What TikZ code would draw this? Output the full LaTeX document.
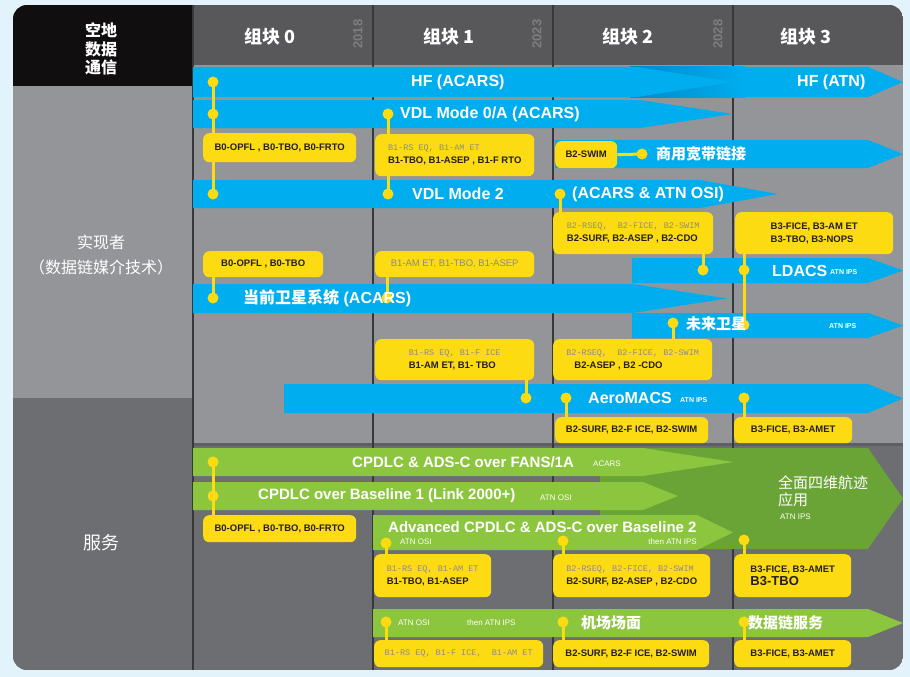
\documentclass[tikz,border=0pt]{standalone}
\usepackage{fontspec}
\setmainfont{Liberation Sans}
\newfontfamily\cjk{Noto Sans CJK SC}
\newfontfamily\monof{Liberation Mono}
\usetikzlibrary{calc}
\definecolor{bgblue}{HTML}{E2F3FB}
\definecolor{blk}{HTML}{100E0F}
\definecolor{hdrgray}{HTML}{58585A}
\definecolor{lgray}{HTML}{939598}
\definecolor{dgray}{HTML}{6D6E71}
\definecolor{divline}{HTML}{38383A}
\definecolor{barblue}{HTML}{00AEEF}
\definecolor{bluedark}{HTML}{0088C9}
\definecolor{lgreen}{HTML}{8CC63F}
\definecolor{greendark}{HTML}{6AA436}
\definecolor{yel}{HTML}{FDDB12}
\definecolor{txtdark}{HTML}{231F20}
\definecolor{boxgray}{HTML}{8A8A8A}
\definecolor{yeargray}{HTML}{7E7E80}
\newcommand\abar[6]{\fill[#1] (#2,#5) -- (#3,#5) -- (#4,{(#5+#6)/2}) -- (#3,#6) -- (#2,#6) -- cycle;}
\newcommand\graytxt[1]{{\monof\mdseries\fontsize{8.5}{13}\selectfont\color{boxgray}#1}}
\pgfdeclarelayer{barsl}
\pgfdeclarelayer{linesl}
\pgfdeclarelayer{frontl}
\pgfsetlayers{barsl,linesl,main,frontl}
\begin{document}
\begin{tikzpicture}[x=1pt,y=-1pt,
  bartxt/.style={text=white,font=\bfseries\fontsize{16}{16}\selectfont,inner sep=0pt,anchor=west},
  gbartxt/.style={text=white,font=\bfseries\fontsize{15}{15}\selectfont,inner sep=0pt,anchor=west},
  cjkbar/.style={text=white,font=\cjk\bfseries\fontsize{15}{15}\selectfont,inner sep=0pt,anchor=west},
  tinytxt/.style={text=white,font=\bfseries\fontsize{7}{7}\selectfont,inner sep=0pt,anchor=west},
  smalltxt/.style={text=white,font=\fontsize{8}{8}\selectfont,inner sep=0pt,anchor=west},
  ybox/.style={fill=yel,rounded corners=6pt,anchor=north west,align=left,inner sep=0pt,font=\bfseries\fontsize{9.5}{13}\selectfont,text=txtdark},
  ydot/.style={circle,fill=yel,inner sep=0pt,minimum size=11pt},
  yline/.style={draw=yel,line width=3pt},
  hdrtxt/.style={text=white,font=\cjk\bfseries\fontsize{18}{18}\selectfont,inner sep=0pt},
  yeartxt/.style={text=yeargray,font=\bfseries\fontsize{13}{13}\selectfont,rotate=90,inner sep=0pt}
]
\useasboundingbox (0,0) rectangle (910,677);
\begin{pgfonlayer}{barsl}
\fill[bgblue] (0,0) rectangle (910,677);
\begin{scope}
\clip[rounded corners=14pt] (13,5) rectangle (903,670);
\fill[lgray] (13,5) rectangle (903,670);
\fill[blk] (13,5) rectangle (193,86);
\fill[lgray] (13,86) rectangle (193,398);
\fill[dgray] (13,398) rectangle (193,670);
\fill[hdrgray] (193,5) rectangle (903,65);
\fill[lgray] (193,65) rectangle (903,445);
\fill[dgray] (193,445) rectangle (903,670);
\fill[dgray!85!black] (193,443) rectangle (903,446);
\foreach \x in {193,373,553,733} \draw[divline,line width=1.3pt] (\x,5) -- (\x,670);
\end{scope}
% blue bars
\abar{barblue}{560}{868}{903}{67}{97}
\shade[left color=bluedark,right color=barblue] (630,67) rectangle (745,97);
\abar{barblue}{193}{637}{733}{67}{97}
\abar{barblue}{193}{640}{733}{100}{128}
\abar{barblue}{555}{868}{903}{140}{168}
\abar{barblue}{193}{700}{778}{180}{208}
\abar{barblue}{632}{868}{903}{258}{283}
\abar{barblue}{193}{633}{727}{284}{313}
\abar{barblue}{632}{868}{903}{313}{338}
\abar{barblue}{284}{868}{903}{384}{413}
% green bars
\abar{greendark}{600}{868}{903}{448}{549}
\abar{lgreen}{193}{643}{733}{448}{476}
\abar{lgreen}{193}{643}{678}{482}{510}
\abar{lgreen}{373}{697}{733}{515}{550}
\abar{lgreen}{373}{868}{903}{609}{637}
\end{pgfonlayer}

% dots
\node[ydot] (d1) at (213,82) {};
\node[ydot] (d2) at (213,114) {};
\node[ydot] (d3) at (213,194) {};
\node[ydot] (d4) at (388,114) {};
\node[ydot] (d5) at (388,194) {};
\node[ydot] (d6) at (642,154) {};
\node[ydot] (d7) at (560,194) {};
\node[ydot] (d8) at (703,270) {};
\node[ydot] (d9) at (744,270) {};
\node[ydot] (d10) at (744,325) {};
\node[ydot] (d11) at (213,298) {};
\node[ydot] (d12) at (387,298) {};
\node[ydot] (d13) at (673,323) {};
\node[ydot] (d14) at (526,398) {};
\node[ydot] (d15) at (566,398) {};
\node[ydot] (d16) at (744,398) {};
\node[ydot] (e1) at (213,462) {};
\node[ydot] (e2) at (213,496) {};
\node[ydot] (e3) at (386,543) {};
\node[ydot] (e4) at (563,541) {};
\node[ydot] (e5) at (744,540) {};
\node[ydot] (e6) at (386,622) {};
\node[ydot] (e7) at (563,622) {};
\node[ydot] (e8) at (744,622) {};

% boxes
\node[ybox,minimum width=153pt,minimum height=29pt] (b0a) at (203,133) {B0-OPFL , B0-TBO, B0-FRTO};
\node[ybox,minimum width=159pt,minimum height=42pt] (b1a) at (375,134) {\graytxt{B1-RS EQ, B1-AM ET}\\B1-TBO, B1-ASEP , B1-F RTO};
\node[ybox,minimum width=62pt,minimum height=27pt] (b2swim) at (555,141) {B2-SWIM};
\node[ybox,minimum width=160pt,minimum height=42pt] (b2a) at (553,212) {\graytxt{B2-RSEQ,\ \ B2-FICE, B2-SWIM}\\B2-SURF, B2-ASEP , B2-CDO};
\node[ybox,minimum width=158pt,minimum height=42pt] (b3a) at (735,212) {B3-FICE, B3-AM ET\\B3-TBO, B3-NOPS};
\node[ybox,minimum width=120pt,minimum height=26pt] (b0b) at (203,251) {B0-OPFL , B0-TBO};
\node[ybox,minimum width=159pt,minimum height=26pt] (b1b) at (375,251) {{\mdseries\color{boxgray}B1-AM ET, B1-TBO, B1-ASEP}};
\node[ybox,minimum width=159pt,minimum height=41pt] (b1c) at (375,339) {\graytxt{B1-RS EQ, B1-F ICE}\\B1-AM ET, B1- TBO};
\node[ybox,minimum width=159pt,minimum height=41pt] (b2b) at (553,339) {\graytxt{B2-RSEQ,\ \ B2-FICE, B2-SWIM}\\\hspace{8pt}B2-ASEP , B2 -CDO};
\node[ybox,minimum width=153pt,minimum height=26pt] (b2c) at (555,417) {B2-SURF, B2-F ICE, B2-SWIM};
\node[ybox,minimum width=118pt,minimum height=26pt] (b3b) at (734,417) {B3-FICE, B3-AMET};
\node[ybox,minimum width=153pt,minimum height=27pt] (b0c) at (203,515) {B0-OPFL , B0-TBO, B0-FRTO};
\node[ybox,minimum width=117pt,minimum height=43pt] (b1d) at (374,554) {\graytxt{B1-RS EQ, B1-AM ET}\\B1-TBO, B1-ASEP};
\node[ybox,minimum width=157pt,minimum height=43pt] (b2d) at (553,554) {\graytxt{B2-RSEQ, B2-FICE, B2-SWIM}\\B2-SURF, B2-ASEP , B2-CDO};
\node[ybox,minimum width=117pt,minimum height=43pt] (b3c) at (734,554) {B3-FICE, B3-AMET\\{\fontsize{13}{15}\selectfont B3-TBO}};
\node[ybox,minimum width=169pt,minimum height=27pt] (b1e) at (374,640) {\graytxt{B1-RS EQ, B1-F ICE,\ \ B1-AM ET}};
\node[ybox,minimum width=156pt,minimum height=27pt] (b2e) at (553,640) {B2-SURF, B2-F ICE, B2-SWIM};
\node[ybox,minimum width=117pt,minimum height=27pt] (b3d) at (734,640) {B3-FICE, B3-AMET};

\begin{pgfonlayer}{linesl}
\draw[yline] (d1.center) -- (d3.center);
\draw[yline] (d4.center) -- (d5.center);
\draw[yline] (b2swim.east) -- (d6.center);
\draw[yline] (d7.center) -- (d7.center |- b2a.north);
\draw[yline] (d8.center) -- (d8.center |- b2a.south);
\draw[yline] (d10.center) -- (d10.center |- b3a.south);
\draw[yline] (d11.center) -- (d11.center |- b0b.south);
\draw[yline] (d12.center) -- (d12.center |- b1b.south);
\draw[yline] (d13.center) -- (d13.center |- b2b.north);
\draw[yline] (d14.center) -- (d14.center |- b1c.south);
\draw[yline] (d15.center) -- (d15.center |- b2c.north);
\draw[yline] (d16.center) -- (d16.center |- b3b.north);
\draw[yline] (e1.center) -- (e1.center |- b0c.north);
\draw[yline] (e3.center) -- (e3.center |- b1d.north);
\draw[yline] (e4.center) -- (e4.center |- b2d.north);
\draw[yline] (e5.center) -- (e5.center |- b3c.north);
\draw[yline] (e6.center) -- (e6.center |- b1e.north);
\draw[yline] (e7.center) -- (e7.center |- b2e.north);
\draw[yline] (e8.center) -- (e8.center |- b3d.north);
\end{pgfonlayer}

\begin{pgfonlayer}{frontl}
% header
\node[align=center,text=white,font=\cjk\bfseries\fontsize{16}{18.5}\selectfont] (lh) at (101,49) {空地\\数据\\通信};
\node[align=center,text=white,font=\cjk\fontsize{16}{25}\selectfont] (lr) at (101,255) {实现者\\（数据链媒介技术）};
\node[text=white,font=\cjk\fontsize{18}{18}\selectfont] (ls) at (101,543) {服务};
\node[hdrtxt] (h0) at (270,37) {组块 0};
\node[hdrtxt] (h1) at (449,37) {组块 1};
\node[hdrtxt] (h2) at (628,37) {组块 2};
\node[hdrtxt] (h3) at (806,37) {组块 3};
\node[yeartxt] (y0) at (358,34) {2018};
\node[yeartxt] (y1) at (537,34) {2023};
\node[yeartxt] (y2) at (718,34) {2028};
% blue bar texts
\node[bartxt] (t1) at (411,82) {HF (ACARS)};
\node[bartxt] (t2) at (797,82) {HF (ATN)};
\node[bartxt] (t3) at (400,114) {VDL Mode 0/A (ACARS)};
\node[cjkbar] (t4) at (656,154) {商用宽带链接};
\node[bartxt] (t5) at (412,194) {VDL Mode 2};
\node[bartxt] (t6) at (572,194) {(ACARS \& ATN OSI)};
\node[bartxt] (t7) at (772,271) {LDACS};
\node[tinytxt] (t8) at (830,272) {ATN IPS};
\node[bartxt] (t9) at (243,298) {{\cjk 当前卫星系统} (ACARS)};
\node[cjkbar] (t10) at (686,324) {未来卫星};
\node[tinytxt] (t11) at (829,326) {ATN IPS};
\node[bartxt] (t12) at (588,398) {AeroMACS};
\node[tinytxt] (t13) at (680,400) {ATN IPS};
% green bar texts
\node[gbartxt] (g1) at (352,462) {CPDLC \& ADS-C over FANS/1A};
\node[smalltxt] (g2) at (593,464) {ACARS};
\node[gbartxt] (g3) at (258,496) {CPDLC over Baseline 1 (Link 2000+)};
\node[smalltxt] (g4) at (540,498) {ATN OSI};
\node[gbartxt] (g5) at (388,527) {Advanced CPDLC \& ADS-C over Baseline 2};
\node[smalltxt] (g6) at (400,542) {ATN OSI};
\node[smalltxt,anchor=east] (g7) at (697,542) {then ATN IPS};
\node[cjkbar,align=left,font=\cjk\fontsize{15}{17}\selectfont] (g8) at (778,491) {全面四维航迹\\应用};
\node[smalltxt] (g9) at (780,517) {ATN IPS};
\node[smalltxt] (g10) at (398,623) {ATN OSI};
\node[smalltxt] (g11) at (467,623) {then ATN IPS};
\node[cjkbar] (g12) at (581,623) {机场场面};
\node[cjkbar] (g13) at (748,623) {数据链服务};
\end{pgfonlayer}
\end{tikzpicture}
\end{document}
